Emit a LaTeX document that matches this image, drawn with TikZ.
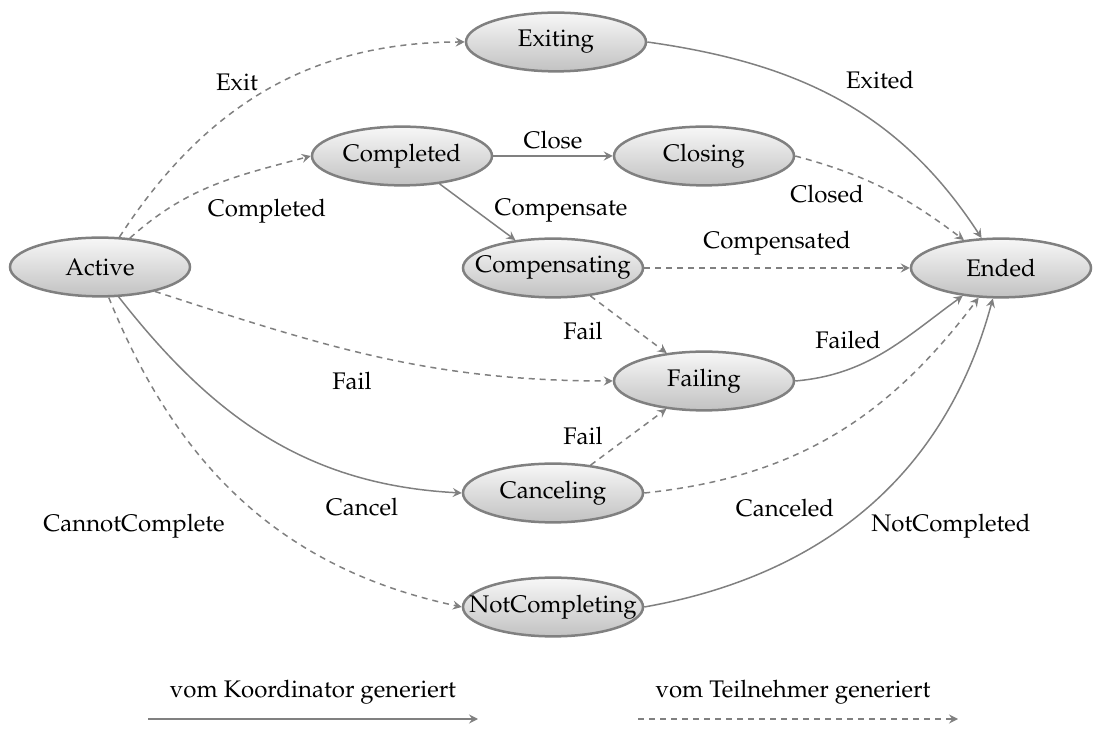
\documentclass[tikz,border=0pt]{standalone}
\usepackage[T1]{fontenc}
\usepackage{mathpazo}
\usetikzlibrary{shapes.geometric,arrows.meta}

% Zustandsname, ohne die Ellipse zu vergroessern
\newcommand{\sname}[1]{\makebox[0pt]{#1}}

\begin{document}
\begin{tikzpicture}[x=0.4pt, y=-0.4pt, font=\fontsize{9.6pt}{11.5pt}\selectfont,
    state/.style={ellipse, draw=black!50, line width=1pt, top color=black!3, bottom color=black!24,
      minimum width=72pt, minimum height=23.5pt, inner sep=0pt},
    koord/.style={draw=black!50, line width=0.6pt, -{Stealth[length=3.6pt,width=3.6pt,inset=1.3pt]}},
    teiln/.style={koord, dash pattern=on 2.4pt off 2pt},
    lbl/.style={inner sep=1pt}]
    \useasboundingbox (0,0) rectangle (1094,731);

    % Zustaende
    \node[state] (Active) at (100,267) {\sname{Active}};
    \node[state] (Exiting) at (556,42) {\sname{Exiting}};
    \node[state] (Completed) at (402,156) {\sname{Completed}};
    \node[state] (Closing) at (704,156) {\sname{Closing}};
    \node[state] (Compensating) at (553,268) {\sname{Compensating}};
    \node[state] (Ended) at (1001,268) {\sname{Ended}};
    \node[state] (Failing) at (704,381) {\sname{Failing}};
    \node[state] (Canceling) at (553,493) {\sname{Canceling}};
    \node[state] (NotCompleting) at (553,607) {\sname{NotCompleting}};

    % vom Koordinator generiert
    \draw[koord] (Active.-58) to[out=-52,in=177] (Canceling.west);
    \draw[koord] (Exiting.east) to[out=-8,in=123] (Ended.123);
    \draw[koord] (Completed) -- (Closing);
    \draw[koord] (Completed) -- (Compensating);
    \draw[koord] (Failing.east) to[out=5,in=216] (Ended.216);
    \draw[koord] (NotCompleting.east) to[out=10,in=255] (Ended.255);

    % vom Teilnehmer generiert
    \draw[teiln] (Active.57) to[out=57,in=180] (Exiting.west);
    \draw[teiln] (Active.44) to[out=42,in=195] (Completed.west);
    \draw[teiln] (Active.-24) to[out=-18,in=180] (Failing.west);
    \draw[teiln] (Active.-74) to[out=-68,in=168] (NotCompleting.west);
    \draw[teiln] (Closing.east) to[out=-15,in=143] (Ended.143);
    \draw[teiln] (Compensating) -- (Ended);
    \draw[teiln] (Compensating) -- (Failing);
    \draw[teiln] (Canceling) -- (Failing);
    \draw[teiln] (Canceling.east) to[out=6,in=233] (Ended.233);

    % Beschriftungen
    \node[lbl] (lExit) at (237,82) {Exit};
    \node[lbl] (lCompleted) at (267,211) {Completed};
    \node[lbl] (lFail) at (352,381) {Fail};
    \node[lbl] (lCancel) at (362,507) {Cancel};
    \node[lbl] (lCannot) at (134,526) {CannotComplete};
    \node[lbl] (lExited) at (880,80) {Exited};
    \node[lbl] (lClose) at (553,140) {Close};
    \node[lbl] (lCompensate) at (561,211) {Compensate};
    \node[lbl] (lClosed) at (827,194) {Closed};
    \node[lbl] (lCompensated) at (777,243) {Compensated};
    \node[lbl] (lFailA) at (583,331) {Fail};
    \node[lbl] (lFailed) at (848,340) {Failed};
    \node[lbl] (lFailB) at (583,436) {Fail};
    \node[lbl] (lCanceled) at (785,508) {Canceled};
    \node[lbl] (lNotCompleted) at (951,526) {NotCompleted};

    % Legende
    \coordinate (kStart) at (148,719);
    \coordinate (kEnd) at (478,719);
    \coordinate (tStart) at (638,719);
    \coordinate (tEnd) at (958,719);
    \draw[koord] (kStart) -- (kEnd);
    \draw[teiln] (tStart) -- (tEnd);
    \node[lbl] (legK) at (313,692) {vom Koordinator generiert};
    \node[lbl] (legT) at (793,692) {vom Teilnehmer generiert};
\end{tikzpicture}
\end{document}
